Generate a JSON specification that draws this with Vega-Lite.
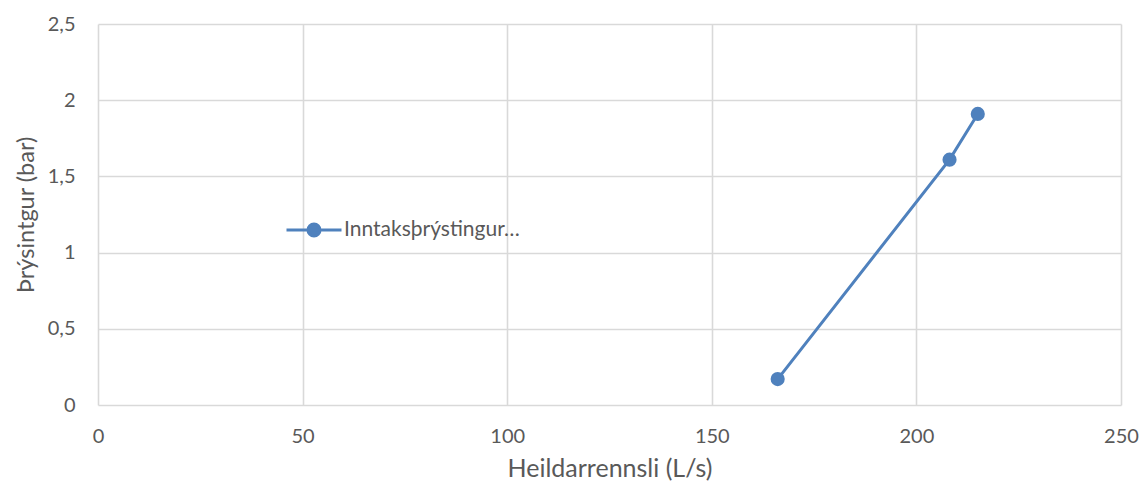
{
  "$schema": "https://vega.github.io/schema/vega-lite/v6.json",
  "autosize": "none",
  "width": 1023,
  "height": 381,
  "padding": {"left": 98, "top": 24, "right": 22, "bottom": 82},
  "background": "white",
  "config": {
    "font": "Lato",
    "view": {"stroke": null},
    "axis": {
      "gridColor": "#d9d9d9",
      "gridWidth": 1.6,
      "domainColor": "#d9d9d9",
      "domainWidth": 1.6,
      "ticks": false,
      "labelColor": "#595959",
      "labelFontSize": 20,
      "titleColor": "#595959",
      "titleFontWeight": "normal"
    }
  },
  "data": {
    "values": [
      {"flow": 166.1, "pressure": 0.17, "series": "Inntaksþrýstingur…"},
      {"flow": 208.1, "pressure": 1.61, "series": "Inntaksþrýstingur…"},
      {"flow": 215.0, "pressure": 1.91, "series": "Inntaksþrýstingur…"}
    ]
  },
  "encoding": {
    "x": {
      "field": "flow", "type": "quantitative",
      "scale": {"domain": [0, 250], "nice": false},
      "axis": {"values": [0, 50, 100, 150, 200, 250], "title": "Heildarrennsli (L/s)", "titleFontSize": 25, "titlePadding": 10, "labelPadding": 21, "domain": false, "labelFlush": false}
    },
    "y": {
      "field": "pressure", "type": "quantitative",
      "scale": {"domain": [0, 2.5], "nice": false},
      "axis": {"values": [0, 0.5, 1, 1.5, 2, 2.5], "labelExpr": "replace(format(datum.value, '~g'), '.', ',')", "title": "Þrýsintgur (bar)", "titleFontSize": 23.5, "titlePadding": 9, "labelPadding": 23, "domain": false}
    },
    "color": {
      "field": "series", "type": "nominal",
      "scale": {"range": ["#4f81bd"]},
      "legend": {
        "title": null,
        "orient": "none",
        "legendX": 187,
        "legendY": 177,
        "symbolType": "M-1,0L1,0M-0.22,0A0.22,0.22,0,1,1,0.22,0A0.22,0.22,0,1,1,-0.22,0Z",
        "symbolSize": 3025,
        "symbolStrokeWidth": 3,
        "symbolFillColor": "#4f81bd",
        "symbolStrokeColor": "#4f81bd",
        "labelFontSize": 21,
        "labelLimit": 400,
        "labelColor": "#595959",
        "labelOffset": 1
      }
    }
  },
  "layer": [
    {"mark": {"type": "line", "strokeWidth": 3}},
    {"mark": {"type": "point", "filled": true, "size": 200, "opacity": 1}}
  ]
}
